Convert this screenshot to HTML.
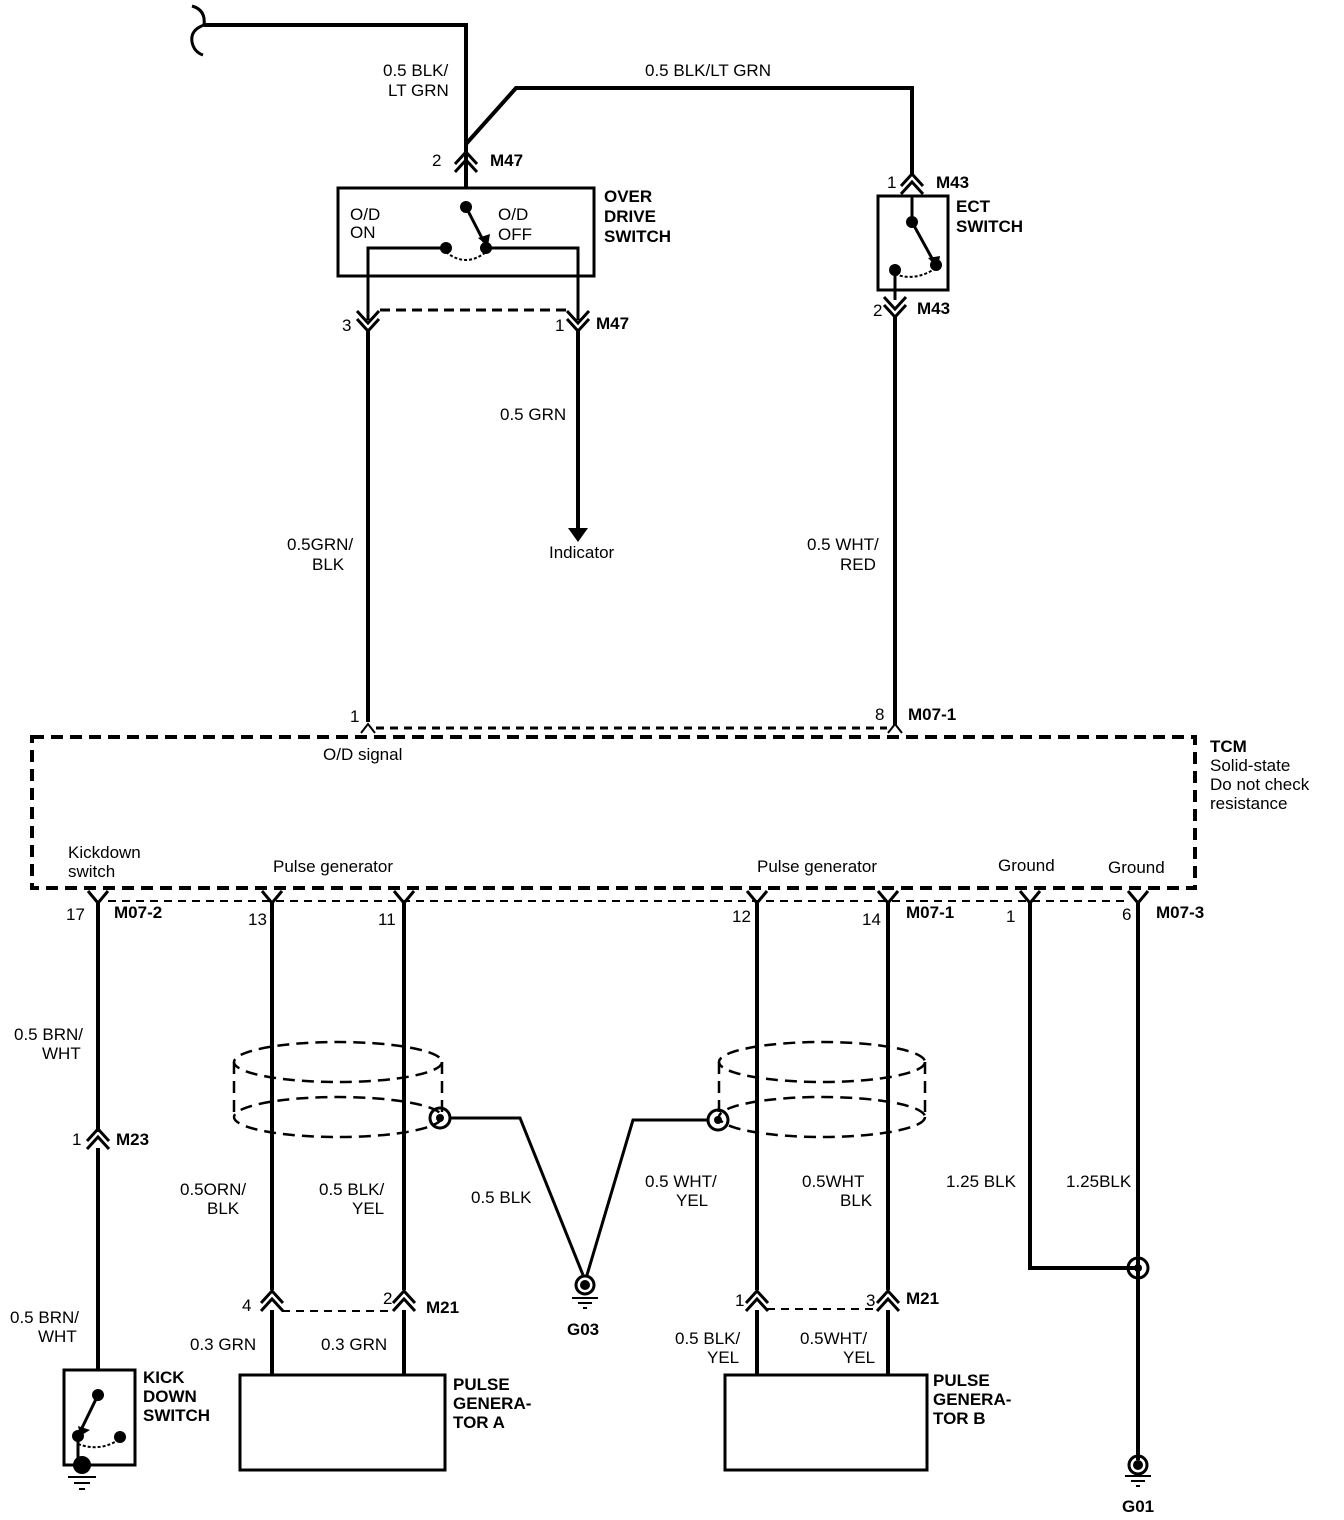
<!DOCTYPE html>
<html><head><style>body{margin:0;background:#fff}svg{display:block}text{font-family:"Liberation Sans",sans-serif;font-size:17px;fill:#000}.b{font-weight:bold}</style></head><body>
<svg width="1344" height="1520" viewBox="0 0 1344 1520" xmlns="http://www.w3.org/2000/svg">
<g fill="none" stroke="#000" stroke-width="4">
<path d="M192,6 Q206,10 204,25 Q190,30 192,42 Q194,52 203,55" stroke-width="3"/>
<path d="M204,25 H466 V188"/>
<path d="M466,144 L516,88 H912 V175"/>
<path d="M455,164 L466,152 L477,164 M455,172 L466,160 L477,172" stroke-width="3"/>
<path d="M901,186 L912,174 L923,186 M901,194 L912,182 L923,194" stroke-width="3"/>
<rect x="338" y="188" width="256" height="88" stroke-width="3"/>
<path d="M466,207 L484,242" stroke-width="3"/>
<path d="M446,248 H368 V320 M486,248 H578 V320" stroke-width="3"/>
<path d="M446,252 Q466,268 486,252" stroke-width="2" stroke-dasharray="3,2"/>
<path d="M357,311 L368,323 L379,311 M357,319 L368,331 L379,319 M567,311 L578,323 L589,311 M567,319 L578,331 L589,319" stroke-width="3"/>
<path d="M380,310 H567" stroke-width="3" stroke-dasharray="10,6"/>
<path d="M368,330 V722 M578,330 V530"/>
<rect x="878" y="196" width="70" height="94" stroke-width="3"/>
<path d="M912,196 V222 L934,262 M895,270 V290 M895,290 V300" stroke-width="3"/>
<path d="M895,274 Q915,282 936,268" stroke-width="2" stroke-dasharray="3,2"/>
<path d="M884,297 L895,309 L906,297 M884,305 L895,317 L906,305" stroke-width="3"/>
<path d="M895,316 V725"/>
<path d="M361,733 L368,724 L375,733 M888,733 L895,724 L902,733" stroke-width="2"/>
<path d="M376,728 H887" stroke-width="3" stroke-dasharray="8,6"/>
<rect x="32" y="737" width="1163" height="151" stroke-width="4" stroke-dasharray="12,7"/>
<path d="M88,891 L98,903 L108,891 M262,891 L272,903 L282,891 M394,891 L404,903 L414,891 M747,891 L757,903 L767,891 M878,891 L888,903 L898,891 M1020,891 L1030,903 L1040,891 M1128,891 L1138,903 L1148,891" stroke-width="3"/>
<path d="M108,901 H1128" stroke-width="2" stroke-dasharray="8,6"/>
<path d="M98,902 V1132 M98,1148 V1370"/>
<path d="M87,1141 L98,1129 L109,1141 M87,1149 L98,1137 L109,1149" stroke-width="3"/>
<path d="M272,902 V1290 M404,902 V1290 M757,902 V1290 M888,902 V1290 M1030,902 V1268 H1138 M1138,902 V1460"/>
<path d="M261,1303 L272,1291 L283,1303 M261,1311 L272,1299 L283,1311 M393,1303 L404,1291 L415,1303 M393,1311 L404,1299 L415,1311 M746,1303 L757,1291 L768,1303 M746,1311 L757,1299 L768,1311 M877,1303 L888,1291 L899,1303 M877,1311 L888,1299 L899,1311" stroke-width="3"/>
<path d="M282,1311 H394 M767,1309 H878" stroke-width="2" stroke-dasharray="8,6"/>
<path d="M272,1310 V1375 M404,1310 V1375 M757,1310 V1375 M888,1310 V1375"/>
<g stroke-width="2.5" stroke-dasharray="12,7">
<ellipse cx="338" cy="1062" rx="104" ry="20"/><ellipse cx="338" cy="1117" rx="104" ry="20"/>
<path d="M234,1062 V1117 M442,1062 V1117"/>
<ellipse cx="822" cy="1062" rx="103" ry="20"/><ellipse cx="822" cy="1117" rx="103" ry="20"/>
<path d="M719,1062 V1117 M925,1062 V1117"/>
</g>
<path d="M450,1118 H520 L583,1275 M708,1120 H633 L587,1275" stroke-width="3"/>
<circle cx="440" cy="1118" r="10" stroke-width="3"/><circle cx="718" cy="1120" r="10" stroke-width="3"/>
<circle cx="1138" cy="1268" r="10" stroke-width="3"/>
<circle cx="585" cy="1285" r="9" stroke-width="3"/><circle cx="1138" cy="1465" r="9" stroke-width="3"/>
<rect x="240" y="1375" width="205" height="95" stroke-width="3"/>
<rect x="725" y="1375" width="202" height="95" stroke-width="3"/>
<rect x="64" y="1370" width="71" height="95" stroke-width="3"/>
<path d="M98,1395 L80,1432" stroke-width="3"/>
<path d="M78,1444 Q100,1452 118,1440" stroke-width="2" stroke-dasharray="3,2"/>
<path d="M78,1436 V1462" stroke-width="3"/>
<path d="M572,1298 H598 M578,1303 H592 M583,1308 H587 M1125,1476 H1151 M1131,1481 H1145 M1136,1486 H1140 M68,1477 H96 M74,1483 H90 M79,1489 H85" stroke-width="2"/>
</g>
<g fill="#000">
<circle cx="466" cy="207" r="6"/><circle cx="486" cy="248" r="6"/><circle cx="446" cy="248" r="6"/>
<circle cx="912" cy="222" r="6"/><circle cx="936" cy="265" r="6"/><circle cx="895" cy="270" r="6"/>
<circle cx="440" cy="1118" r="4"/><circle cx="718" cy="1120" r="4"/><circle cx="1138" cy="1268" r="4"/>
<circle cx="585" cy="1285" r="5"/><circle cx="1138" cy="1465" r="5"/>
<circle cx="98" cy="1395" r="6"/><circle cx="78" cy="1436" r="6"/><circle cx="120" cy="1437" r="6"/><circle cx="82" cy="1465" r="9"/>
<path d="M568,528 H588 L578,542 Z"/>
<path d="M478,238 L488,246 L490,234 Z"/><path d="M928,258 L938,268 L940,256 Z"/><path d="M78,1426 L80,1436 L90,1430 Z"/>
</g>
<text x="383" y="76">0.5 BLK/</text><text x="388" y="96">LT GRN</text>
<text x="645" y="76">0.5 BLK/LT GRN</text>
<text x="432" y="166">2</text><text class="b" x="490" y="166">M47</text>
<text class="b" x="604" y="202">OVER</text><text class="b" x="604" y="222">DRIVE</text><text class="b" x="604" y="242">SWITCH</text>
<text x="350" y="220">O/D</text><text x="350" y="238">ON</text>
<text x="498" y="220">O/D</text><text x="498" y="240">OFF</text>
<text x="342" y="331">3</text><text x="555" y="331">1</text><text class="b" x="596" y="329">M47</text>
<text x="887" y="188">1</text><text class="b" x="936" y="188">M43</text>
<text class="b" x="956" y="212">ECT</text><text class="b" x="956" y="232">SWITCH</text>
<text x="873" y="316">2</text><text class="b" x="917" y="314">M43</text>
<text x="500" y="420">0.5 GRN</text>
<text x="549" y="558">Indicator</text>
<text x="287" y="550">0.5GRN/</text><text x="312" y="570">BLK</text>
<text x="807" y="550">0.5 WHT/</text><text x="840" y="570">RED</text>
<text x="350" y="722">1</text><text x="875" y="720">8</text><text class="b" x="908" y="720">M07-1</text>
<text x="323" y="760">O/D signal</text>
<text class="b" x="1210" y="752">TCM</text><text x="1210" y="771">Solid-state</text><text x="1210" y="790">Do not check</text><text x="1210" y="809">resistance</text>
<text x="68" y="858">Kickdown</text><text x="68" y="877">switch</text>
<text x="273" y="872">Pulse generator</text><text x="757" y="872">Pulse generator</text>
<text x="998" y="871">Ground</text><text x="1108" y="873">Ground</text>
<text x="66" y="920">17</text><text class="b" x="114" y="918">M07-2</text>
<text x="248" y="925">13</text><text x="378" y="925">11</text><text x="732" y="922">12</text><text x="862" y="925">14</text>
<text class="b" x="906" y="918">M07-1</text><text x="1006" y="922">1</text><text x="1122" y="920">6</text><text class="b" x="1156" y="918">M07-3</text>
<text x="14" y="1040">0.5 BRN/</text><text x="42" y="1059">WHT</text>
<text x="72" y="1145">1</text><text class="b" x="116" y="1145">M23</text>
<text x="180" y="1195">0.5ORN/</text><text x="207" y="1214">BLK</text>
<text x="319" y="1195">0.5 BLK/</text><text x="352" y="1214">YEL</text>
<text x="471" y="1203">0.5 BLK</text>
<text x="645" y="1187">0.5 WHT/</text><text x="676" y="1206">YEL</text>
<text x="802" y="1187">0.5WHT</text><text x="840" y="1206">BLK</text>
<text x="946" y="1187">1.25 BLK</text><text x="1066" y="1187">1.25BLK</text>
<text x="242" y="1311">4</text><text x="383" y="1304">2</text><text class="b" x="426" y="1313">M21</text>
<text x="735" y="1306">1</text><text x="866" y="1306">3</text><text class="b" x="906" y="1304">M21</text>
<text class="b" x="567" y="1335">G03</text>
<text x="10" y="1323">0.5 BRN/</text><text x="38" y="1342">WHT</text>
<text x="190" y="1350">0.3 GRN</text><text x="321" y="1350">0.3 GRN</text>
<text x="675" y="1344">0.5 BLK/</text><text x="707" y="1363">YEL</text>
<text x="800" y="1344">0.5WHT/</text><text x="843" y="1363">YEL</text>
<text class="b" x="143" y="1383">KICK</text><text class="b" x="143" y="1402">DOWN</text><text class="b" x="143" y="1421">SWITCH</text>
<text class="b" x="453" y="1390">PULSE</text><text class="b" x="453" y="1409">GENERA-</text><text class="b" x="453" y="1428">TOR A</text>
<text class="b" x="933" y="1386">PULSE</text><text class="b" x="933" y="1405">GENERA-</text><text class="b" x="933" y="1424">TOR B</text>
<text class="b" x="1122" y="1512">G01</text>
</svg>
</body></html>
